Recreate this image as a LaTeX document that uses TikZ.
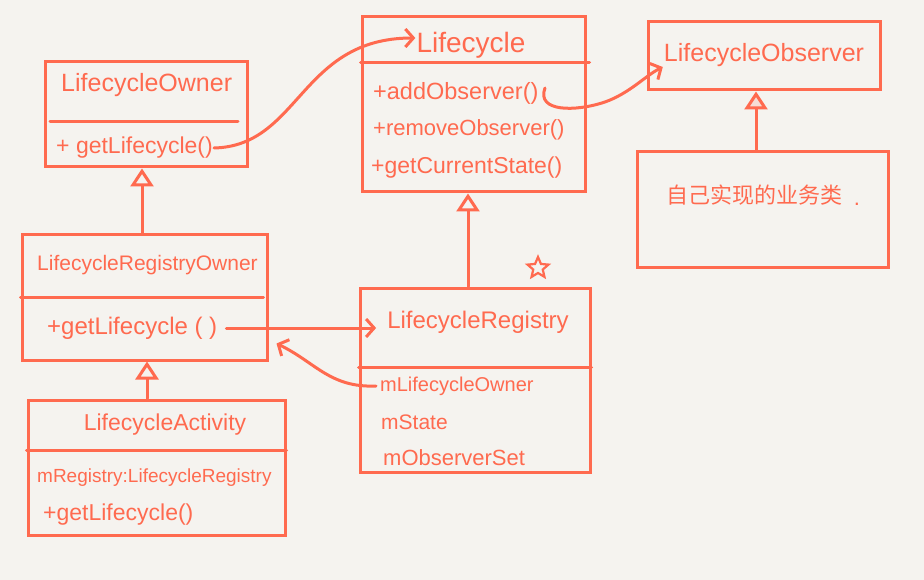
\documentclass[tikz,border=0pt]{standalone}
\usepackage{fontspec}
\setmainfont{Liberation Sans}
\newfontfamily\cjk{Noto Sans CJK SC}
\usetikzlibrary{arrows.meta,shapes.geometric,calc}
\definecolor{ink}{HTML}{FF6A4F}
\definecolor{bg}{HTML}{F5F3EF}
\definecolor{tri}{HTML}{F6DCD4}
\newcommand{\fs}[1]{\fontsize{#1}{#1}\selectfont}
\begin{document}
\begin{tikzpicture}[x=1pt,y=-1pt,
  box/.style={draw=ink, line width=3pt, rectangle, inner sep=0pt},
  lbl/.style={text=ink, inner sep=1pt},
  edge/.style={draw=ink, line width=3pt, line cap=round},
  assoc/.style={edge, -{Straight Barb[length=8pt,width=18pt]}},
  gen/.style={edge, -{Triangle[length=18pt,width=23pt,fill=bg]}},
  genf/.style={edge, -{Triangle[length=18pt,width=23pt,fill=tri]}},
]
\fill[bg] (0,0) rectangle (924,580);
\useasboundingbox (0,0) rectangle (924,580);

% boxes
\node[box, minimum width=202pt, minimum height=105pt] (owner) at (146,114.5) {};
\node[box, minimum width=223pt, minimum height=175pt] (lc) at (473.5,104.5) {};
\node[box, minimum width=232pt, minimum height=68pt] (obs) at (764,56) {};
\node[box, minimum width=251pt, minimum height=116pt] (biz) at (762.5,210) {};
\node[box, minimum width=245pt, minimum height=125pt] (rowner) at (144.5,297.5) {};
\node[box, minimum width=230pt, minimum height=184pt] (reg) at (475,380) {};
\node[box, minimum width=257pt, minimum height=135pt] (act) at (156.5,467.5) {};

% dividers
\draw[edge] (50,122) -- (238,122);
\draw[edge] (lc.west |- 0,63) -- ([xshift=3pt]lc.east |- 0,63);
\draw[edge] (rowner.west |- 0,297) -- ([xshift=-5pt]rowner.east |- 0,297);
\draw[edge] (reg.west |- 0,367) -- (reg.east |- 0,367);
\draw[edge] (act.west |- 0,450) -- (act.east |- 0,450);

% texts
\node[lbl, anchor=west, font=\fs{25}] (ownert) at (60,85) {LifecycleOwner};
\node[lbl, anchor=west, font=\fs{23}] (ownerm) at (55,148) {+ getLifecycle()};

\node[lbl, font=\fs{28}] (lct) at (471,45) {Lifecycle};
\node[lbl, anchor=west, font=\fs{23.5}] (lcm1) at (372,93) {+addObserver()};
\node[lbl, anchor=west, font=\fs{22}] (lcm2) at (372,130) {+removeObserver()};
\node[lbl, anchor=west, font=\fs{23}] (lcm3) at (370,168) {+getCurrentState()};

\node[lbl, font=\fs{25}] (obst) at (764,55) {LifecycleObserver};
\node[lbl, font=\fs{22}] (bizt) at (754,195) {\cjk 自己实现的业务类};
\node[lbl, font=\fs{22}] (bizd) at (857,204) {.};

\node[lbl, anchor=west, font=\fs{21}] (rownert) at (36,265) {LifecycleRegistryOwner};
\node[lbl, anchor=west, font=\fs{24}] (rownerm) at (46,328) {+getLifecycle ( )};

\node[lbl, font=\fs{24}] (regt) at (478,322) {LifecycleRegistry};
\node[lbl, anchor=west, font=\fs{20}] (regm1) at (379,386) {mLifecycleOwner};
\node[lbl, anchor=west, font=\fs{21}] (regm2) at (380,422) {mState};
\node[lbl, anchor=west, font=\fs{22}] (regm3) at (382,458) {mObserverSet};

\node[lbl, font=\fs{23}] (actt) at (165,425) {LifecycleActivity};
\node[lbl, anchor=west, font=\fs{19}] (actm1) at (36,478) {mRegistry:LifecycleRegistry};
\node[lbl, anchor=west, font=\fs{23}] (actm2) at (42,515) {+getLifecycle()};

\node[star, star points=5, star point ratio=2.2, draw=ink, line width=2.2pt,
      minimum size=22pt, inner sep=0pt] (mark) at (538,268) {};

% associations
\draw[assoc] (ownerm.east) .. controls (300,146) and (300,38) .. ([yshift=7pt]lct.west);
\coordinate (ao) at (545,88);
\draw[assoc] (ao) .. controls (536,112) and (575,112) .. (605,102)
   .. controls (630,93) and (645,76) .. ([yshift=-12pt]obst.west);
\draw[assoc] ([xshift=8pt]rownerm.east) -- ($(rownerm.east -| regt.west)+(-10,0)$);
\draw[assoc] ([xshift=-3pt]regm1.west) .. controls (330,388) and (315,362) .. ($(rowner.south east)+(8,-18)$);

% generalizations
\draw[gen] (rowner.north -| 142,0) -- (owner.south -| 142,0);
\draw[gen] (act.north -| 147,0) -- (rowner.south -| 147,0);
\draw[gen] (reg.north -| 468,0) -- (lc.south -| 468,0);
\draw[genf] (biz.north -| 756,0) -- (obs.south -| 756,0);
\end{tikzpicture}
\end{document}
